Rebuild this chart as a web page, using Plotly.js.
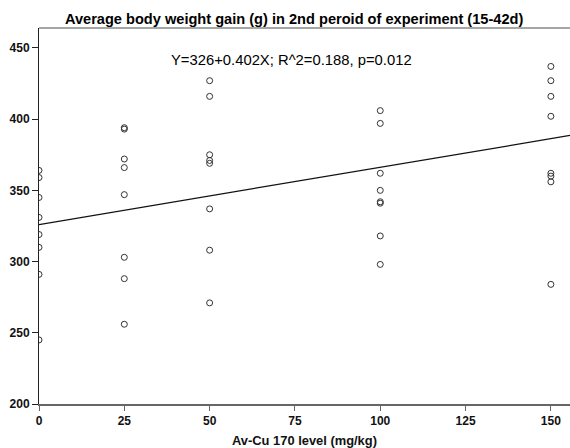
<!DOCTYPE html>
<html>
<head>
<meta charset="utf-8">
<script src="https://cdn.plot.ly/plotly-3.0.1.min.js"></script>
<style>html,body{margin:0;padding:0;background:#fff;}#chart{width:570px;height:448px;}</style>
</head>
<body>
<div id="chart"></div>
<script>
const cuLevels = [0, 25, 50, 100, 150];
const gain0   = [364, 359, 345, 331, 319, 310, 291, 245];
const gain25  = [394, 393, 372, 366, 347, 303, 288, 256];
const gain50  = [427, 416, 375, 371, 369, 337, 308, 271];
const gain100 = [406, 397, 362, 350, 342, 341, 318, 298];
const gain150 = [437, 427, 416, 402, 362, 360, 356, 284];
const groups = [gain0, gain25, gain50, gain100, gain150];

// Fitted regression (from the chart's annotation)
const fitIntercept = 326;
const fitSlope = 0.402;
const fitLabel = "Y=326+0.402X; R^2=0.188, p=0.012";

const xTicks = [0, 25, 50, 75, 100, 125, 150];
const yTicks = [200, 250, 300, 350, 400, 450];
const xRange = [0, 155.6];
const yRange = [200, 464];

const xs = [], ys = [];
groups.forEach((g, i) => g.forEach(v => { xs.push(cuLevels[i]); ys.push(v); }));

const fitX = [xRange[0], xRange[1]];
const fitY = fitX.map(x => fitIntercept + fitSlope * x);

const font = "Liberation Sans, Arial, sans-serif";

const traces = [
  {
    x: fitX, y: fitY, type: 'scatter', mode: 'lines',
    line: {color: '#111', width: 1.2}, hoverinfo: 'skip', showlegend: false
  },
  {
    x: xs, y: ys, type: 'scatter', mode: 'markers',
    marker: {symbol: 'circle-open', size: 6, color: '#333', line: {width: 1, color: '#333'}},
    showlegend: false
  }
];

const layout = {
  width: 570, height: 448,
  margin: {l: 39, r: 0, t: 28, b: 44},
  paper_bgcolor: '#fff', plot_bgcolor: '#fff',
  font: {family: font, color: '#000'},
  showlegend: false,
  title: {
    text: "Average body weight gain (g) in 2nd peroid of experiment (15-42d)",
    font: {family: font, size: 14.6, weight: 'bold', color: '#000'},
    x: 0.516, xanchor: 'center', xref: 'container',
    y: 1 - 19/448, yanchor: 'middle', yref: 'container'
  },
  xaxis: {
    range: xRange, tickvals: xTicks, ticktext: xTicks.map(String),
    showgrid: false, zeroline: false,
    showline: true, linecolor: '#666', linewidth: 2,
    ticks: 'outside', ticklen: 5, tickcolor: '#666', tickwidth: 1,
    tickfont: {family: font, size: 12, weight: 'bold', color: '#111'},
    title: {text: "Av-Cu 170 level (mg/kg)", font: {family: font, size: 12.9, weight: 'bold', color: '#111'}, standoff: 9}
  },
  yaxis: {
    range: yRange, tickvals: yTicks, ticktext: yTicks.map(String),
    showgrid: false, zeroline: false,
    showline: true, linecolor: '#222', linewidth: 1,
    ticks: 'outside', ticklen: 6, tickcolor: '#222', tickwidth: 1,
    tickfont: {family: font, size: 12, weight: 'bold', color: '#111'},
    ticklabelstandoff: 0
  },
  shapes: [
    {type: 'line', xref: 'paper', yref: 'paper', x0: 0, x1: 1, y0: 1, y1: 1,
     line: {color: '#888', width: 1.5}}
  ],
  annotations: [
    {text: fitLabel, xref: 'paper', yref: 'paper', x: 0.4746, y: 0.915,
     xanchor: 'center', yanchor: 'middle', showarrow: false,
     font: {family: font, size: 14.8, color: '#000'}}
  ]
};

Plotly.newPlot('chart', traces, layout, {displayModeBar: false, staticPlot: true});
</script>
</body>
</html>
